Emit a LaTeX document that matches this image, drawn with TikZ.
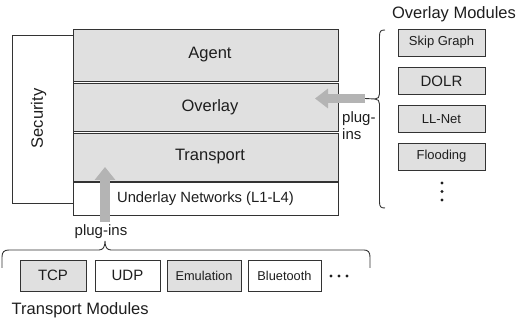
\documentclass[tikz,border=0pt]{standalone}
\usepackage{fontspec}
\setmainfont{Liberation Sans}
\usetikzlibrary{arrows.meta,calc}
\definecolor{ink}{HTML}{1E1E1E}
\definecolor{edge}{HTML}{333333}
\definecolor{boxgray}{HTML}{E0E0E0}
\definecolor{plug}{HTML}{B4B4B4}

\begin{document}
\begin{tikzpicture}[x=1pt,y=-1pt,text=ink,
 font=\fontsize{16.5}{19}\selectfont,
 layer/.style={draw=edge,line width=.9pt,minimum width=265pt,inner sep=0pt},
 omod/.style={draw=edge,line width=.9pt,fill=boxgray,minimum width=87pt,minimum height=27pt,inner sep=0pt,
  font=\fontsize{13}{15}\selectfont},
 tmod/.style={draw=edge,line width=.9pt,minimum height=31pt,inner sep=0pt,font=\fontsize{15}{17}\selectfont},
 small/.style={font=\fontsize{12.8}{15}\selectfont},
 lbl/.style={inner sep=0pt,font=\fontsize{15}{17}\selectfont},
 plugin/.style={-{Triangle[length=13pt,width=20pt]},draw=plug,line width=9.5pt},
 brace/.style={draw=edge,line width=.9pt}]
\path[use as bounding box] (0,0) rectangle (517,320);
% security column behind the stack
\node[draw=edge,line width=.9pt,minimum width=61pt,minimum height=168pt,inner sep=0pt,anchor=north west] (sec) at (12,35) {};
\node[rotate=90,inner sep=0pt] (seclbl) at (38.5,118.5) {Security};
% layer stack
\node[layer,fill=boxgray,minimum height=52pt] (agent) at (205.5,55) {\hspace*{9pt}Agent};
\node[layer,fill=boxgray,minimum height=48pt] (overlay) at (205.5,107) {\hspace*{9pt}Overlay};
\node[layer,fill=boxgray,minimum height=48pt] (transport) at (205.5,157) {\hspace*{9pt}Transport};
\node[layer,fill=white,minimum height=33pt,font=\fontsize{14.8}{17}\selectfont] (underlay) at (205.5,198.5) {Underlay Networks (L1-L4)};
% overlay modules
\node (omods) at (454,14) {Overlay Modules};
\node[omod] (skip) at (441.5,42.5) {Skip Graph};
\node[omod,font=\fontsize{15}{17}\selectfont] (dolr) at (441.5,81) {DOLR};
\node[omod] (llnet) at (441.5,119) {LL-Net};
\node[omod] (flood) at (441.5,156.5) {Flooding};
\foreach \y in {183,191.5,200}{\fill[ink] (442,\y) circle (1.7pt);}
\draw[brace] (385,30) .. controls (381,30) and (379.5,31) .. (379.5,36) -- (379.5,94)
 .. controls (379.5,97) and (378,99) .. (375,99) coordinate (otip)
 .. controls (378,99) and (379.5,101) .. (379.5,104) -- (379.5,202)
 .. controls (379.5,207) and (381,208) .. (385,208);
\coordinate (oin) at (365,98.5);
\coordinate (oout) at (315,98.5);
\draw[brace] (oin) -- (otip);
\draw[plugin,-{Triangle[length=13pt,width=19pt]},line width=9pt] (oin) -- (oout);
\node[lbl,align=left,anchor=north west] (oplug) at (342,111.5) {plug-\\ins};
% transport modules
\node[tmod,fill=boxgray,minimum width=66pt] (tcp) at (53,275.5) {TCP};
\node[tmod,fill=white,minimum width=65pt] (udp) at (127.5,275.5) {UDP};
\node[tmod,fill=boxgray,minimum width=74pt,small] (emu) at (204,275.5) {Emulation};
\node[tmod,fill=white,minimum width=73pt,small] (bt) at (284.5,275.5) {Bluetooth};
\foreach \x in {331,339,347}{\fill[ink] (\x,276) circle (1.7pt);}
\node[inner sep=0pt,anchor=west] (tmods) at (11.5,310) {Transport Modules};
\draw[brace] (2,268) -- (2,257) .. controls (2,252) and (4,250) .. (9,250) -- (99,250)
 .. controls (103,250) and (105,247) .. (105,241) coordinate (ttip)
 .. controls (105,247) and (107,250) .. (111,250) -- (364,250)
 .. controls (368,250) and (370,252) .. (370,257) -- (370,268);
\node[lbl,anchor=north] (tplug) at (101,224.5) {plug-ins};
\coordinate (tin) at (105,222);
\coordinate (tout) at (105,167);
\draw[plugin] (tin) -- (tout);
\end{tikzpicture}
\end{document}
